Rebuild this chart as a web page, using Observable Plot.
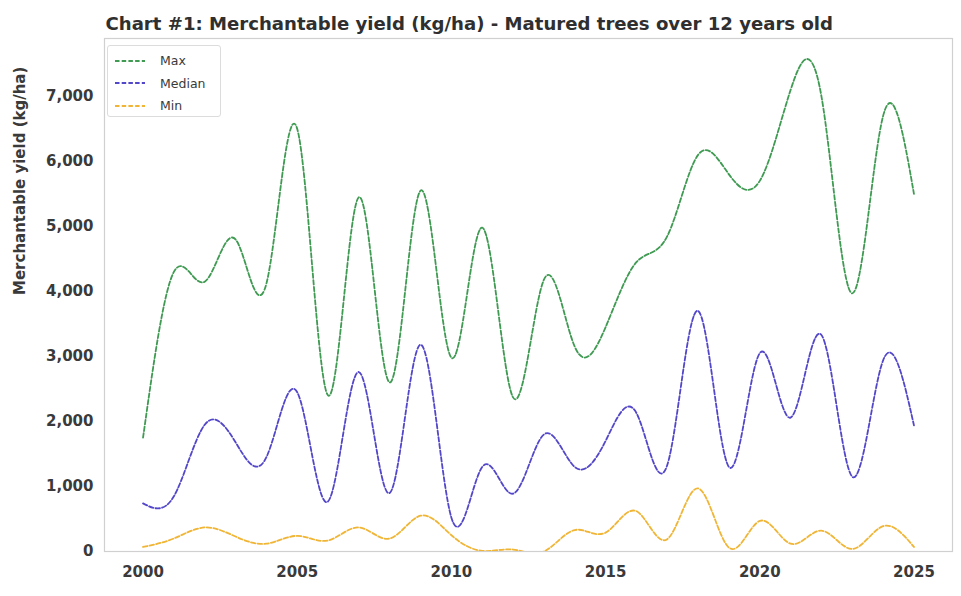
<!DOCTYPE html>
<html>
<head>
<meta charset="utf-8">
<script src="https://cdn.jsdelivr.net/npm/d3@7"></script>
<script src="https://cdn.jsdelivr.net/npm/@observablehq/plot@0.6"></script>
<style>
  html, body { margin: 0; padding: 0; background: #fff; }
  #wrap { position: relative; width: 961px; height: 596px; }
  #legend { position: absolute; left: 107px; top: 45px; width: 114px; height: 72px;
    border: 1px solid #dcdcdc; border-radius: 3px; background: #fff; box-sizing: border-box;
    font-family: "DejaVu Sans", sans-serif; font-size: 12.5px; color: #3a3a3a; }
  .item { position: absolute; left: 7px; display: flex; align-items: center; }
  .item span { margin-left: 15px; }
</style>
</head>
<body>
<div id="wrap"><div id="legend"></div></div>
<script>
const years = d3.range(2000, 2026);
const maxValues = [1750, 4300, 4150, 4800, 4120, 6500, 2400, 5450, 2600, 5550, 2980, 4980, 2370, 4180, 3150, 3450, 4450, 4850, 6100, 5800, 5700, 7100, 7000, 3970, 6700, 5500];
const medianValues = [740, 850, 1950, 1680, 1450, 2450, 770, 2760, 900, 3180, 520, 1300, 890, 1800, 1300, 1700, 2130, 1330, 3700, 1300, 3050, 2060, 3330, 1150, 2940, 1940];
const minValues = [70, 200, 370, 230, 120, 240, 170, 370, 200, 550, 250, 10, 30, 0, 330, 290, 620, 190, 970, 60, 470, 120, 320, 40, 390, 70];
const seriesNames = ["Max", "Median", "Min"];
const seriesColors = ["#3f9a52", "#5347c9", "#f0b535"];
const xTicks = [2000, 2005, 2010, 2015, 2020, 2025];
const yTicks = [0, 1000, 2000, 3000, 4000, 5000, 6000, 7000];
const title = "Chart #1: Merchantable yield (kg/ha) - Matured trees over 12 years old";
const yLabel = "Merchantable yield (kg/ha)";

const allSeries = [maxValues, medianValues, minValues];
const data = [];
allSeries.forEach((vals, i) => years.forEach((y, j) => data.push({year: y, value: vals[j], series: seriesNames[i]})));

const chart = Plot.plot({
  width: 961,
  height: 596,
  marginLeft: 104,
  marginTop: 38,
  marginRight: 9,
  marginBottom: 45,
  style: {fontFamily: "DejaVu Sans", fontSize: "15px", fontWeight: "bold", color: "#3a3a3a", background: "#fff"},
  x: {domain: [1998.75, 2026.25]},
  y: {domain: [0, 7890]},
  color: {domain: seriesNames, range: seriesColors},
  marks: [
    Plot.frame({stroke: "#d0d0d0", strokeWidth: 1.2}),
    Plot.line(data, {x: "year", y: "value", z: "series", stroke: "series", curve: "natural",
      strokeWidth: 1.8, strokeDasharray: "4.5,2.2", clip: true}),
    Plot.axisX({ticks: xTicks, tickSize: 0, tickPadding: 15, tickFormat: d => String(d), label: null, fill: "#3a3a3a"}),
    Plot.axisY({ticks: yTicks, tickSize: 0, tickPadding: 11, tickFormat: d3.format(","), label: null, fill: "#3a3a3a"}),
    Plot.text([yLabel], {frameAnchor: "left", dx: -84, rotate: -90, fontSize: 15, fontWeight: "bold", fill: "#3a3a3a"}),
    Plot.text([title], {frameAnchor: "top-left", dy: -21, dx: 1, textAnchor: "start", fontSize: 18.1, fontWeight: "bold", fill: "#2f2f2f"})
  ]
});
document.getElementById("wrap").prepend(chart);

const legend = document.getElementById("legend");
seriesNames.forEach((name, i) => {
  const item = document.createElement("div");
  item.className = "item";
  item.style.top = (7 + i * 22.5) + "px";
  item.innerHTML = `<svg width="30" height="8"><line x1="0" y1="4" x2="30" y2="4" stroke="${seriesColors[i]}" stroke-width="1.8" stroke-dasharray="4.5,2.2"/></svg><span>${name}</span>`;
  legend.appendChild(item);
});
</script>
</body>
</html>
